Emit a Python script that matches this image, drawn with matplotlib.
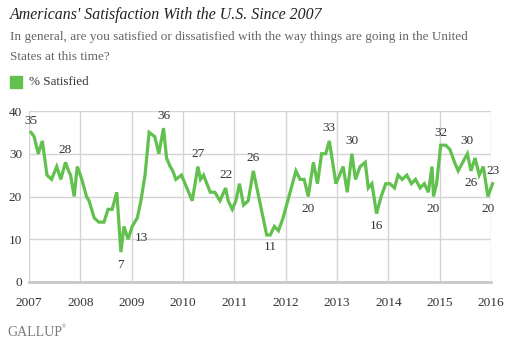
import matplotlib.pyplot as plt

# % satisfied, Gallup monthly readings (decimal year of survey)
annee = [2007.04, 2007.10, 2007.18, 2007.26, 2007.35, 2007.44, 2007.54, 2007.62,
         2007.71, 2007.77, 2007.81, 2007.88, 2007.94, 2008.03, 2008.12, 2008.17,
         2008.27, 2008.36, 2008.46, 2008.54, 2008.62, 2008.71, 2008.79, 2008.85,
         2008.93, 2009.01, 2009.11, 2009.18, 2009.26, 2009.34, 2009.45, 2009.53,
         2009.62, 2009.68, 2009.75, 2009.80, 2009.86, 2009.97, 2010.18, 2010.29,
         2010.34, 2010.40, 2010.53, 2010.62, 2010.72, 2010.83, 2010.88, 2010.96,
         2011.03, 2011.10, 2011.18, 2011.27, 2011.37, 2011.63, 2011.70, 2011.78,
         2011.86, 2011.95, 2012.20, 2012.28, 2012.36, 2012.44, 2012.54, 2012.62,
         2012.70, 2012.78, 2012.85, 2012.98, 2013.12, 2013.20, 2013.29, 2013.36,
         2013.45, 2013.55, 2013.61, 2013.68, 2013.77, 2013.86, 2013.95, 2014.03,
         2014.12, 2014.19, 2014.27, 2014.36, 2014.45, 2014.53, 2014.62, 2014.70,
         2014.78, 2014.85, 2014.88, 2014.94, 2015.02, 2015.12, 2015.20, 2015.29,
         2015.36, 2015.45, 2015.54, 2015.61, 2015.69, 2015.77, 2015.85, 2015.94,
         2016.03]
satisfait = [35, 34, 30, 33, 25, 24, 27, 24,
             28, 26, 25, 20, 27, 24, 20, 19,
             15, 14, 14, 17, 17, 21, 7, 13,
             10, 13, 15, 19, 25, 35, 34, 30,
             36, 29, 27, 26, 24, 25, 19, 27,
             24, 25, 21, 21, 19, 22, 19, 17,
             19, 23, 18, 19, 26, 11, 11, 13,
             12, 15, 26, 24, 24, 20, 28, 23,
             30, 30, 33, 23, 27, 21, 30, 24,
             27, 28, 22, 23, 16, 20, 23, 23,
             22, 25, 24, 25, 23, 24, 22, 23,
             21, 27, 20, 23, 32, 32, 31, 28,
             26, 28, 30, 26, 29, 25, 27, 20,
             23]

# labelled points: index in the series, offset (points) of the label
etiquettes = [0, 8, 22, 25, 32, 39, 45, 52, 54, 61, 66, 70, 76, 90, 92, 98, 99, 103, 104]
decalages = [(0, 8), (0, 9), (0, -9), (7, -8), (0, 9), (0, 9), (0, 9), (0, 9), (0, -9),
             (0, -9), (0, 9), (0, 9), (0, -9), (0, -9), (0, 9), (0, 9), (0, -9), (0, -9),
             (0, 9)]

annees_ticks = list(range(2007, 2017))
vert = '#62c04e'
police = 'Liberation Serif'

fig = plt.figure(figsize=(5.14, 3.44), dpi=100)
ax = fig.add_axes([29 / 514, 62 / 344, 462 / 514, 171 / 344])

ax.plot(annee, satisfait, color=vert, lw=2.3, solid_joinstyle='miter', clip_on=False, zorder=3)

for i, (dx, dy) in zip(etiquettes, decalages):
    ax.annotate(str(satisfait[i]), (annee[i], satisfait[i]), xytext=(dx, dy),
                textcoords='offset points', ha='center', va='center',
                fontsize=9.5, family=police, color='#333333', zorder=4,
                annotation_clip=False)

ax.set_xlim(2007, 2016)
ax.set_ylim(0, 40)
ax.set_xticks(annees_ticks)
ax.set_yticks([0, 10, 20, 30, 40])
ax.grid(True, color='#d4d4d4', lw=1)
ax.set_axisbelow(True)
for s in ['top', 'right', 'left']:
    ax.spines[s].set_visible(False)
ax.spines['bottom'].set_color('#c8c8c8')
ax.spines['bottom'].set_linewidth(2)
ax.tick_params(length=0, labelsize=9.5, labelcolor='#333333')
ax.tick_params(axis='x', pad=11)
ax.tick_params(axis='y', pad=5)
for lab in ax.get_xticklabels() + ax.get_yticklabels():
    lab.set_family(police)

fig.text(10 / 514, 1 - 15 / 344, "Americans' Satisfaction With the U.S. Since 2007",
         family=police, style='italic', fontsize=11.4, color='#222222', va='center')
fig.text(10 / 514, 1 - 37 / 344,
         "In general, are you satisfied or dissatisfied with the way things are going in the United",
         family=police, fontsize=9.5, color='#666666', va='center')
fig.text(10 / 514, 1 - 57 / 344, "States at this time?",
         family=police, fontsize=9.5, color='#666666', va='center')

# legend
fig.patches.append(plt.Rectangle((10 / 514, 1 - 88 / 344), 12 / 514, 12 / 344,
                                 transform=fig.transFigure, color=vert))
fig.text(29 / 514, 1 - 82 / 344, '% Satisfied', family=police, fontsize=9.4,
         color='#333333', va='center')

fig.text(7 / 514, 1 - 332 / 344, 'GALLUP', family=police, fontsize=10,
         color='#7a7a7a', va='center')
fig.text(62 / 514, 1 - 327 / 344, '\u00ae', family=police, fontsize=4,
         color='#7a7a7a', va='center')

fig.savefig('out.png', dpi=100)
